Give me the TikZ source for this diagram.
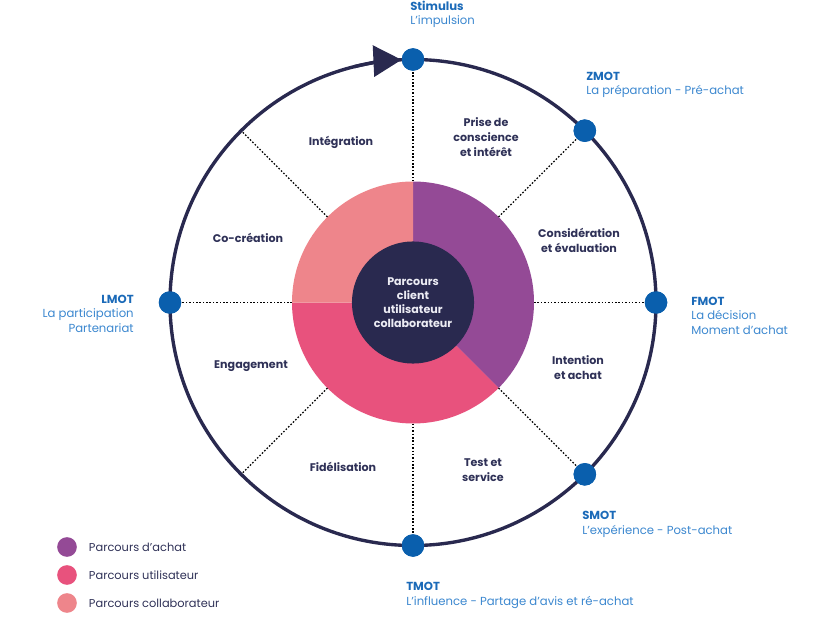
\documentclass[tikz,border=0pt]{standalone}
\usepackage{fontspec}
\setmainfont{Poppins}
\usetikzlibrary{arrows.meta}
\usetikzlibrary{positioning}
\usetikzlibrary{calc}
\definecolor{cjrNavy}{HTML}{29294F}
\definecolor{cjrBlue}{HTML}{0A5FAD}
\definecolor{cjrTitle}{HTML}{1B6AB8}
\definecolor{cjrSub}{HTML}{3B87CF}
\definecolor{cjrText}{HTML}{2F3157}
\definecolor{cjrCore}{HTML}{ECECF4}
\definecolor{cjrPurple}{HTML}{944A96}
\definecolor{cjrMagenta}{HTML}{E8527D}
\definecolor{cjrSalmon}{HTML}{EE858B}
\tikzset{
  cjr ring/.style={
    draw=cjrNavy,
    line width=2.4pt,
  },
}
\tikzset{
  cjr marker/.style={
    circle,
    fill=cjrBlue,
    minimum size=16pt,
    inner sep=0pt,
  },
}
\tikzset{
  cjr phase/.style={
    text=cjrText,
    font=\fontsize{7.9}{10.6}\selectfont\bfseries,
    align=center,
  },
}
\tikzset{
  cjr moment/.style={
    text=cjrSub,
    font=\fontsize{8.3}{10}\selectfont,
    inner sep=0pt,
  },
}
\tikzset{
  cjr divider/.style={
    draw=black,
    line width=1pt,
    dash pattern=on 1.1pt off 1.3pt,
  },
}
\tikzset{
  cjr legend dot/.style={
    circle,
    minimum size=14pt,
    inner sep=0pt,
  },
}
\tikzset{
  cjr legend/.style={
    text=cjrText,
    font=\fontsize{8.1}{10}\selectfont,
    anchor=west,
  },
}
\tikzset{
  cjr figure/.style={
    x=0.025cm,
    y=0.025cm,
  },
}
\newcommand{\cjrhead}[1]{\textcolor{cjrTitle}{\bfseries #1}}

\begin{document}
\begin{tikzpicture}[cjr figure]

  \useasboundingbox (0,0) rectangle (817,621);
  \coordinate (c) at (413,318.5);

  % =========================================================================
  % Donut: three journeys round the core
  % =========================================================================
  \fill[cjrPurple]  (c) -- ++(90:121) arc (90:-45:121) -- cycle;
  \fill[cjrMagenta] (c) -- ++(-45:121) arc (-45:-180:121) -- cycle;
  \fill[cjrSalmon]  (c) -- ++(180:121) arc (180:90:121) -- cycle;

  \node[circle, fill=cjrNavy, inner sep=0pt, minimum size=86.8pt,
        text=cjrCore, align=center,
        font=\fontsize{7.9}{10}\selectfont\bfseries]
    (core) at (c) {Parcours\\client\\utilisateur\\collaborateur};

  % =========================================================================
  % Rim points and outer points (every 45 degrees)
  % =========================================================================
  \foreach \a in {90,45,0,-45,-90,-135,180,135}{
    \coordinate (rim\a) at ($(c)+(\a:121)$);
    \coordinate (out\a) at ($(c)+(\a:243)$);
  }

  % =========================================================================
  % Moment markers on the ring
  % =========================================================================
  \node[cjr marker] (stimulus) at (out90) {};
  \node[cjr marker] (zmot) at (out45) {};
  \node[cjr marker] (fmot) at (out0) {};
  \node[cjr marker] (smot) at (out-45) {};
  \node[cjr marker] (tmot) at (out-90) {};
  \node[cjr marker] (lmot) at (out180) {};

  % dotted dividers between phases
  \draw[cjr divider] (rim90) -- (stimulus);
  \draw[cjr divider] (rim45) -- (zmot);
  \draw[cjr divider] (rim0) -- (fmot);
  \draw[cjr divider] (rim-45) -- (smot);
  \draw[cjr divider] (rim-90) -- (tmot);
  \draw[cjr divider] (rim180) -- (lmot);
  \draw[cjr divider] (rim135) -- (out135);
  \draw[cjr divider] (rim-135) -- (out-135);

  % =========================================================================
  % Outer ring with the direction arrow
  % =========================================================================
  \draw[cjr ring] (c) circle[radius=243];
  \draw[cjr ring, -{Triangle[length=20pt, width=22pt]}]
    ($(c)+(104:243)$) arc (104:92.7:243);

  % markers again, on top of the ring
  \foreach \m in {stimulus,zmot,fmot,smot,tmot,lmot}{
    \fill[cjrBlue] (\m) circle (8pt);
  }

  % =========================================================================
  % Phase labels
  % =========================================================================
  \node[cjr phase] (prise) at (486,484) {Prise de\\conscience\\et intérêt};
  \node[cjr phase] (integration) at (341,479) {Intégration};
  \node[cjr phase] (cocreation) at (248,383) {Co-création};
  \node[cjr phase] (consideration) at (579,381) {Considération\\et évaluation};
  \node[cjr phase] (engagement) at (251,255) {Engagement};
  \node[cjr phase] (intention) at (578,253) {Intention\\et achat};
  \node[cjr phase] (fidelisation) at (343,154) {Fidélisation};
  \node[cjr phase] (test) at (483,151) {Test et\\service};

  % =========================================================================
  % Moment labels (base = baseline of the last line)
  % =========================================================================
  \node[cjr moment, anchor=base west, align=left]
    (stimlabel) at (410,596) {\cjrhead{Stimulus}\\L’impulsion};
  \node[cjr moment, anchor=base west, align=left]
    (zmotlabel) at (586,526) {\cjrhead{ZMOT}\\La préparation - Pré-achat};
  \node[cjr moment, anchor=base west, align=left]
    (fmotlabel) at (691,287) {\cjrhead{FMOT}\\La décision\\Moment d’achat};
  \node[cjr moment, anchor=base east, align=right]
    (lmotlabel) at (134,289) {\cjrhead{LMOT}\\La participation\\Partenariat};
  \node[cjr moment, anchor=base west, align=left]
    (smotlabel) at (582,87) {\cjrhead{SMOT}\\L’expérience - Post-achat};
  \node[cjr moment, anchor=base west, align=left]
    (tmotlabel) at (406,16) {\cjrhead{TMOT}\\L’influence - Partage d’avis et ré-achat};

  % =========================================================================
  % Legend
  % =========================================================================
  \node[cjr legend dot, fill=cjrPurple] (legachat) at (67,74) {};
  \node[cjr legend dot, fill=cjrMagenta] (legutil) at (67,46) {};
  \node[cjr legend dot, fill=cjrSalmon] (legcollab) at (67,18) {};
  \node[cjr legend] (legachattext) at (84,74) {Parcours d'achat};
  \node[cjr legend] (legutiltext) at (84,46) {Parcours utilisateur};
  \node[cjr legend] (legcollabtext) at (84,18) {Parcours collaborateur};

\end{tikzpicture}
\end{document}
